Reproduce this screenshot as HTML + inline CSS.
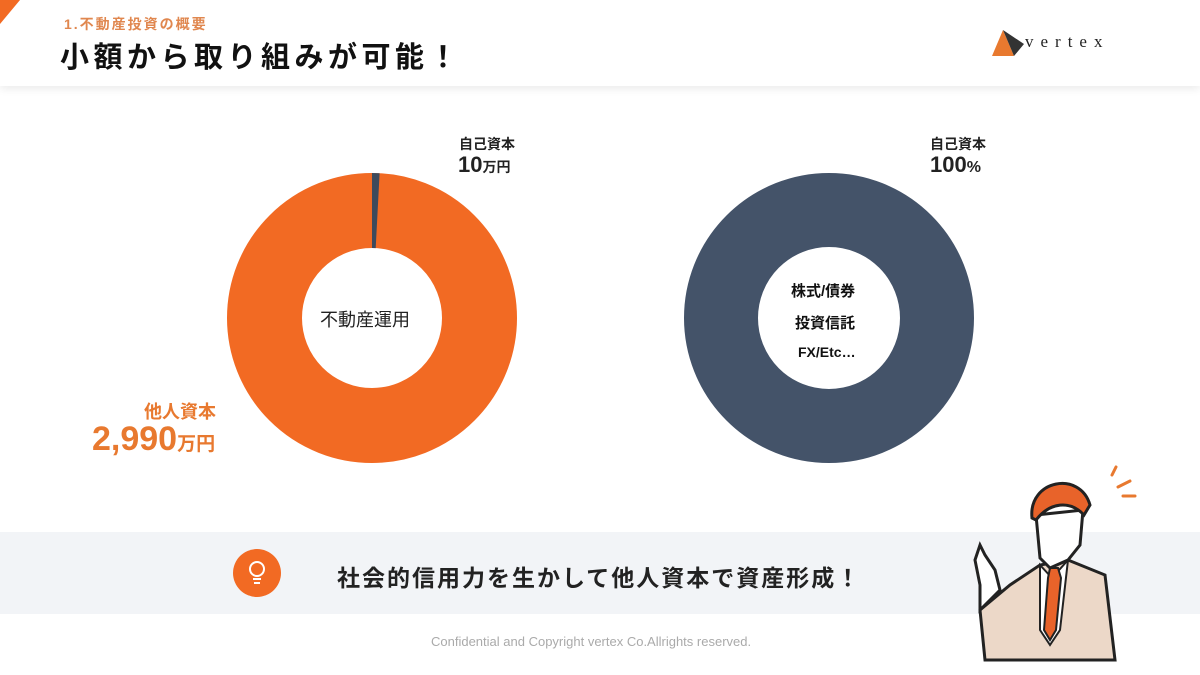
<!DOCTYPE html><html><head><meta charset="utf-8"><style>
body{margin:0;width:1200px;height:675px;background:#fff;position:relative;overflow:hidden;font-family:"Liberation Sans","Noto Sans CJK JP",sans-serif}
.a{position:absolute;white-space:nowrap}
</style></head><body>
<div class="a" style="left:0;top:0;width:1200px;height:86px;background:#fff;box-shadow:0 3px 8px rgba(0,0,0,0.08)"></div>
<svg class="a" style="left:0;top:0" width="22" height="26"><polygon points="0,0 20,0 0,24" fill="#f26a23"/></svg>
<div class="a" style="left:64px;top:14px;font-size:14px;color:#e0874f;letter-spacing:2px;font-weight:bold">1.不動産投資の概要</div>
<div class="a" style="left:60px;top:34px;font-size:29px;color:#111;letter-spacing:4.5px;font-weight:bold">小額から取り組みが可能！</div>
<svg class="a" style="left:988px;top:28px" width="40" height="32"><polygon points="15,2 4,28 26,28" fill="#e8792f"/><polygon points="15,2 26,28 36,16" fill="#333"/></svg>
<div class="a" style="left:1025px;top:32px;font-family:'Liberation Serif',serif;font-size:17px;letter-spacing:7px;color:#222">vertex</div>
<svg class="a" style="left:0;top:0" width="1200" height="520">
<circle cx="372" cy="318" r="107.5" fill="none" stroke="#f26a23" stroke-width="75"/>
<path d="M372,173 A145,145 0 0,1 379.6,173.2 L375.7,248.1 A75,75 0 0,0 372,248 Z" fill="#3d4a5c"/>
<circle cx="829" cy="318" r="108" fill="none" stroke="#445369" stroke-width="74"/>
</svg>
<div class="a" style="left:320px;top:306px;font-size:18px;color:#222">不動産運用</div>
<div class="a" style="left:459px;top:134px;font-size:14px;color:#222;font-weight:bold">自己資本</div>
<div class="a" style="left:458px;top:152px;font-size:22px;color:#222;font-weight:bold">10<span style="font-size:14px">万円</span></div>
<div class="a" style="left:930px;top:134px;font-size:14px;color:#222;font-weight:bold">自己資本</div>
<div class="a" style="left:930px;top:152px;font-size:22px;color:#222;font-weight:bold">100<span style="font-size:16px">%</span></div>
<div class="a" style="left:144px;top:398px;font-size:18px;color:#e8792f;font-weight:bold">他人資本</div>
<div class="a" style="left:92px;top:420px;font-size:34px;color:#e8792f;font-weight:bold">2,990<span style="font-size:19px">万円</span></div>
<div class="a" style="left:791px;top:280px;font-size:15px;color:#111;font-weight:bold">株式/債券</div>
<div class="a" style="left:795px;top:312px;font-size:15px;color:#111;font-weight:bold">投資信託</div>
<div class="a" style="left:798px;top:344px;font-size:14px;color:#111;font-weight:bold">FX/Etc…</div>
<div class="a" style="left:0;top:532px;width:1200px;height:82px;background:#f2f4f7"></div>
<svg class="a" style="left:232px;top:548px" width="50" height="50"><circle cx="25" cy="25" r="24" fill="#f26a23"/><circle cx="25" cy="21" r="7" fill="none" stroke="#fff" stroke-width="2"/><line x1="21" y1="31" x2="29" y2="31" stroke="#fff" stroke-width="2"/><line x1="22" y1="35" x2="28" y2="35" stroke="#fff" stroke-width="2"/></svg>
<div class="a" style="left:337px;top:559px;font-size:23px;color:#222;font-weight:bold;letter-spacing:2px">社会的信用力を生かして他人資本で資産形成！</div>
<div class="a" style="left:431px;top:634px;font-size:13px;color:#aaa">Confidential and Copyright vertex Co.Allrights reserved.</div>
<svg class="a" style="left:940px;top:450px" width="260" height="225">
<g stroke="#e8792f" stroke-width="3" stroke-linecap="round"><line x1="172" y1="25" x2="176" y2="17"/><line x1="178" y1="37" x2="190" y2="31"/><line x1="183" y1="46" x2="195" y2="46"/></g>
<path d="M45,210 L40,160 L70,135 L100,115 L128,110 L165,125 L175,210 Z" fill="#ecd8c8" stroke="#222" stroke-width="3"/>
<path d="M100,115 L112,128 L128,110 L120,180 L110,195 L100,180 Z" fill="#fff" stroke="#222" stroke-width="2"/>
<path d="M110,118 L118,118 L121,128 L116,180 L110,190 L104,180 L108,128 Z" fill="#e8632a" stroke="#222" stroke-width="2"/>
<path d="M96,65 L100,108 L110,118 L128,110 L140,95 L143,60 Z" fill="#fff" stroke="#222" stroke-width="3"/>
<path d="M92,68 C88,30 140,20 150,55 L144,65 C130,50 110,52 96,70 Z" fill="#e8632a" stroke="#222" stroke-width="3"/>
<path d="M40,160 L40,135 L35,110 L40,95 L45,105 L55,120 L60,140 Z" fill="#fff" stroke="#222" stroke-width="3"/>
</svg>
</body></html>
